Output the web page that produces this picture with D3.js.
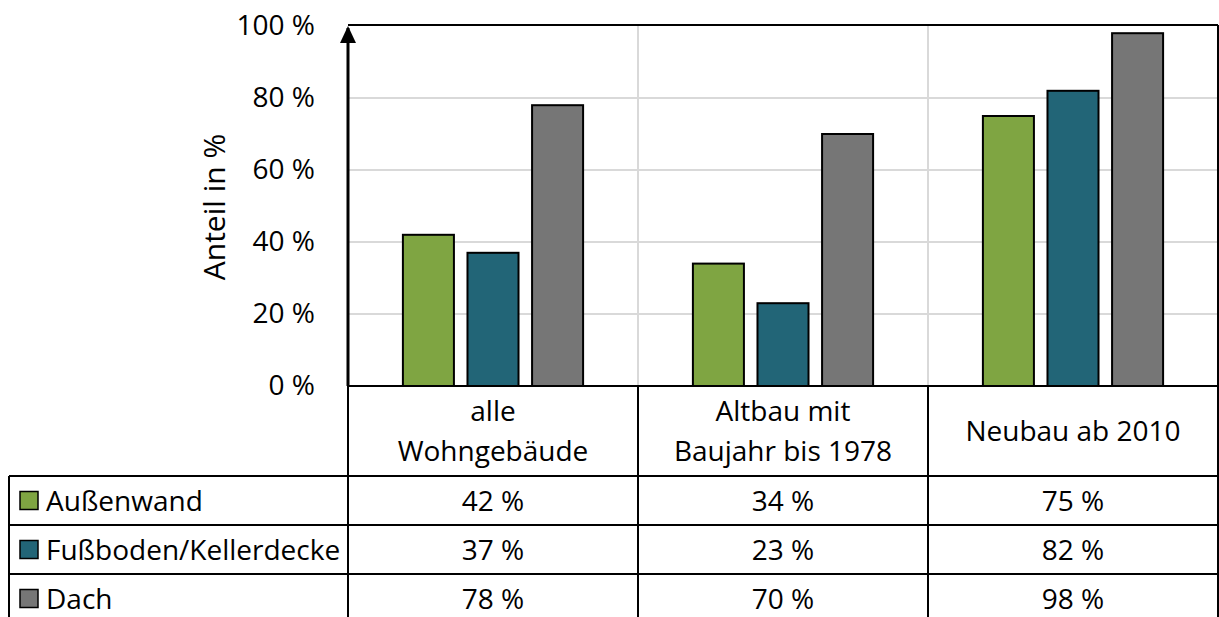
<!DOCTYPE html>
<html>
<head>
<meta charset="utf-8">
<script src="https://cdn.jsdelivr.net/npm/d3@7"></script>
<style>
  body { margin: 0; background: #fff; }
  text { font-family: "Open Sans", "Noto Sans", sans-serif; fill: #000; }
</style>
</head>
<body>
<div id="chart"></div>
<script>
var svgWidth = 1219;
var svgHeight = 617;

// data
var categories = ["alle Wohngebäude", "Altbau mit Baujahr bis 1978", "Neubau ab 2010"];
var categoryLines = [["alle", "Wohngebäude"], ["Altbau mit", "Baujahr bis 1978"], ["Neubau ab 2010"]];
var seriesNames = ["Außenwand", "Fußboden/Kellerdecke", "Dach"];
var aussenwand = [42, 34, 75];
var fussboden = [37, 23, 82];
var dach = [78, 70, 98];
var yTicks = [0, 20, 40, 60, 80, 100];
var colors = ["#7fa542", "#226577", "#767676"];

var seriesValues = [aussenwand, fussboden, dach];

var plot = { left: 348, right: 1218, top: 26, bottom: 386 };
var tableTop = 476;
var rowH = 49;
var tableLeft = 9;
var fontSize = 28;

var svg = d3.select("#chart")
  .append("svg")
  .attr("width", svgWidth)
  .attr("height", svgHeight);

var x0 = d3.scaleBand()
  .domain(categories)
  .range([plot.left, plot.right]);

var x1 = d3.scaleBand()
  .domain(seriesNames)
  .range([0, x0.bandwidth()])
  .paddingInner(0.21)
  .paddingOuter(0.85);

var y = d3.scaleLinear()
  .domain([0, 100])
  .range([plot.bottom, plot.top]);

// horizontal gridlines
svg.append("g")
  .selectAll("line")
  .data(yTicks.filter(d => d > 0 && d < 100))
  .enter()
  .append("line")
  .attr("x1", plot.left)
  .attr("x2", plot.right)
  .attr("y1", d => y(d))
  .attr("y2", d => y(d))
  .attr("stroke", "#d9d9d9")
  .attr("stroke-width", 2);

// vertical gridlines between categories (plot area)
svg.append("g")
  .selectAll("line")
  .data(categories.slice(1))
  .enter()
  .append("line")
  .attr("x1", d => x0(d))
  .attr("x2", d => x0(d))
  .attr("y1", plot.top)
  .attr("y2", plot.bottom)
  .attr("stroke", "#d9d9d9")
  .attr("stroke-width", 2);

// bars
var groups = svg.append("g")
  .selectAll("g")
  .data(categories)
  .enter()
  .append("g")
  .attr("transform", d => `translate(${x0(d)},0)`);

groups.selectAll("rect")
  .data((d, i) => seriesNames.map((s, j) => ({ s: s, v: seriesValues[j][i], c: colors[j] })))
  .enter()
  .append("rect")
  .attr("x", d => x1(d.s))
  .attr("y", d => y(d.v))
  .attr("width", x1.bandwidth())
  .attr("height", d => y(0) - y(d.v))
  .attr("fill", d => d.c)
  .attr("stroke", "#000")
  .attr("stroke-width", 2);

// frame top + right
svg.append("line")
  .attr("x1", plot.left).attr("x2", plot.right)
  .attr("y1", plot.top - 1).attr("y2", plot.top - 1)
  .attr("stroke", "#000").attr("stroke-width", 2);
svg.append("line")
  .attr("x1", plot.right).attr("x2", plot.right)
  .attr("y1", plot.top - 1).attr("y2", svgHeight)
  .attr("stroke", "#000").attr("stroke-width", 2);

// y axis with tick labels
var leftAxis = d3.axisLeft(y)
  .tickValues(yTicks)
  .tickFormat(d => d + " %")
  .tickSize(0)
  .tickPadding(33);

var yAxisG = svg.append("g")
  .attr("transform", `translate(${plot.left},0)`)
  .call(leftAxis);
yAxisG.select(".domain").remove();
yAxisG.selectAll("text")
  .style("font-size", fontSize + "px")
  .style("font-family", "'Open Sans', 'Noto Sans', sans-serif");

// axis line with arrow
svg.append("line")
  .attr("x1", plot.left).attr("x2", plot.left)
  .attr("y1", plot.bottom).attr("y2", plot.top + 2)
  .attr("stroke", "#000").attr("stroke-width", 3);
svg.append("path")
  .attr("d", `M${plot.left - 8},${plot.top + 17} L${plot.left},${plot.top} L${plot.left + 8},${plot.top + 17} Z`)
  .attr("fill", "#000");

// y axis title
svg.append("text")
  .attr("transform", `translate(225, ${(plot.top + plot.bottom) / 2 + 1}) rotate(-90)`)
  .attr("text-anchor", "middle")
  .style("font-size", "30px")
  .text("Anteil in %");

// ----- data table -----
var tableG = svg.append("g");

// category header row
tableG.selectAll(".cat")
  .data(categories)
  .enter()
  .append("text")
  .attr("class", "cat")
  .attr("x", d => x0(d) + x0.bandwidth() / 2)
  .attr("text-anchor", "middle")
  .style("font-size", fontSize + "px")
  .each(function(d, i) {
    var lines = categoryLines[i];
    var lh = 40;
    var start = (plot.bottom + tableTop) / 2 - (lines.length - 1) * lh / 2 + 10;
    d3.select(this).selectAll("tspan")
      .data(lines)
      .enter()
      .append("tspan")
      .attr("x", x0(d) + x0.bandwidth() / 2)
      .attr("y", (l, k) => start + k * lh)
      .text(l => l);
  });

// value rows
seriesNames.forEach(function(s, j) {
  var rowY = tableTop + j * rowH;
  var midY = rowY + rowH / 2;

  tableG.append("rect")
    .attr("x", 20).attr("y", midY - 9)
    .attr("width", 18).attr("height", 18)
    .attr("fill", colors[j])
    .attr("stroke", "#000").attr("stroke-width", 1.5);

  tableG.append("text")
    .attr("x", 46).attr("y", midY + 10)
    .style("font-size", fontSize + "px")
    .text(s);

  tableG.selectAll(".v" + j)
    .data(seriesValues[j])
    .enter()
    .append("text")
    .attr("x", (d, i) => x0(categories[i]) + x0.bandwidth() / 2)
    .attr("y", midY + 10)
    .attr("text-anchor", "middle")
    .style("font-size", fontSize + "px")
    .text(d => d + " %");

  // row top line
  tableG.append("line")
    .attr("x1", tableLeft).attr("x2", plot.right)
    .attr("y1", rowY).attr("y2", rowY)
    .attr("stroke", "#000").attr("stroke-width", 2);
});

// zero line / header top
tableG.append("line")
  .attr("x1", plot.left).attr("x2", plot.right)
  .attr("y1", plot.bottom).attr("y2", plot.bottom)
  .attr("stroke", "#000").attr("stroke-width", 2);

// vertical table lines
tableG.selectAll(".vl")
  .data(categories.slice(1))
  .enter()
  .append("line")
  .attr("x1", d => x0(d)).attr("x2", d => x0(d))
  .attr("y1", plot.bottom).attr("y2", svgHeight)
  .attr("stroke", "#000").attr("stroke-width", 2);

tableG.append("line")
  .attr("x1", plot.left).attr("x2", plot.left)
  .attr("y1", plot.bottom).attr("y2", svgHeight)
  .attr("stroke", "#000").attr("stroke-width", 2);

tableG.append("line")
  .attr("x1", tableLeft).attr("x2", tableLeft)
  .attr("y1", tableTop).attr("y2", svgHeight)
  .attr("stroke", "#000").attr("stroke-width", 2);
</script>
</body>
</html>
